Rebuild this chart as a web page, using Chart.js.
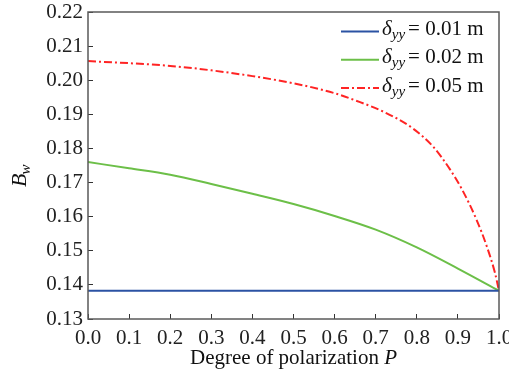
<!DOCTYPE html>
<html>
<head>
<meta charset="utf-8">
<script src="https://cdn.jsdelivr.net/npm/chart.js@4/dist/chart.umd.min.js"></script>
<style>
  body { margin: 0; background: #fff; }
  canvas { display: block; background: #fff; }
</style>
</head>
<body>
<canvas id="chart" width="509" height="374"></canvas>
<script>
// degree of polarization P
const pSteps = [0, 0.1, 0.2, 0.3, 0.4, 0.5, 0.6, 0.7, 0.8, 0.9, 1.0];
const pRed = [0, 0.1, 0.2, 0.3, 0.4, 0.5, 0.6, 0.65, 0.72, 0.79, 0.84, 0.88, 0.91, 0.945, 0.97, 0.99, 1.0];

// B_w for each delta_yy
const bw001 = [0.1383, 0.1383, 0.1383, 0.1383, 0.1383, 0.1383, 0.1383, 0.1383, 0.1383, 0.1383, 0.1383];
const bw002 = [0.1760, 0.1742, 0.1723, 0.1696, 0.1667, 0.1637, 0.1602, 0.1562, 0.1510, 0.1448, 0.1383];
const bw005 = [0.2056, 0.2050, 0.2042, 0.2029, 0.2012, 0.1991, 0.1962, 0.1941, 0.1907, 0.1859,
  0.1805, 0.1740, 0.1680, 0.1592, 0.1514, 0.1436, 0.1383];

const deltaValues = ['0.01 m', '0.02 m', '0.05 m'];
const lineColors = ['#2b52a3', '#6cbf48', '#ff2424'];

const FONT = '"Liberation Serif", "Times New Roman", serif';

function toPoints(xs, ys) {
  return xs.map((x, i) => ({ x: x, y: ys[i] }));
}

// frame, legend and axis titles (subscripts need manual drawing)
const decorations = {
  id: 'decorations',
  afterDraw(chart) {
    const ctx = chart.ctx;
    const a = chart.chartArea;
    ctx.save();

    ctx.strokeStyle = '#5a5a5a';
    ctx.lineWidth = 1.5;
    ctx.strokeRect(a.left, a.top, a.right - a.left, a.bottom - a.top);

    // legend
    ctx.fillStyle = '#111';
    ctx.textBaseline = 'alphabetic';
    chart.data.datasets.forEach((ds, i) => {
      const y = a.top + 19.5 + i * 28.3;
      ctx.beginPath();
      ctx.strokeStyle = ds.borderColor;
      ctx.lineWidth = 2;
      ctx.setLineDash(ds.borderDash || []);
      ctx.moveTo(a.right - 158, y);
      ctx.lineTo(a.right - 120, y);
      ctx.stroke();
      ctx.setLineDash([]);

      let x = a.right - 117;
      const base = y + 3.5;
      ctx.font = 'italic 21px ' + FONT;
      ctx.fillText('δ', x, base);
      x += ctx.measureText('δ').width;
      ctx.font = 'italic 15px ' + FONT;
      ctx.fillText('yy', x, base + 4);
      x += ctx.measureText('yy').width + 3;
      ctx.font = '21px ' + FONT;
      ctx.fillText('= ' + deltaValues[i], x, base);
    });

    // x title
    ctx.font = '21px ' + FONT;
    const main = 'Degree of polarization ';
    const w1 = ctx.measureText(main).width;
    ctx.font = 'italic 21px ' + FONT;
    const w2 = ctx.measureText('P').width;
    let tx = (a.left + a.right) / 2 - (w1 + w2) / 2;
    ctx.font = '21px ' + FONT;
    ctx.fillText(main, tx, 364);
    ctx.font = 'italic 21px ' + FONT;
    ctx.fillText('P', tx + w1, 364);

    // y title
    ctx.translate(26, 187);
    ctx.rotate(-Math.PI / 2);
    ctx.font = 'italic 22px ' + FONT;
    ctx.fillText('B', 0, 0);
    const bw = ctx.measureText('B').width;
    ctx.font = 'italic 15px ' + FONT;
    ctx.fillText('w', bw - 1, 4);

    ctx.restore();
  }
};

new Chart(document.getElementById('chart'), {
  type: 'scatter',
  data: {
    datasets: [
      {
        label: 'δyy = ' + deltaValues[0],
        data: toPoints(pSteps, bw001),
        borderColor: lineColors[0],
        borderWidth: 2,
      },
      {
        label: 'δyy = ' + deltaValues[1],
        data: toPoints(pSteps, bw002),
        borderColor: lineColors[1],
        borderWidth: 2,
        cubicInterpolationMode: 'monotone',
      },
      {
        label: 'δyy = ' + deltaValues[2],
        data: toPoints(pRed, bw005),
        borderColor: lineColors[2],
        borderWidth: 2,
        borderDash: [8, 3, 2, 3],
        cubicInterpolationMode: 'monotone',
      },
    ],
  },
  options: {
    responsive: false,
    animation: false,
    showLine: true,
    elements: { point: { radius: 0 } },
    layout: { padding: { top: 12, right: 10, bottom: 0, left: 0 } },
    plugins: {
      legend: { display: false },
      tooltip: { enabled: false },
    },
    scales: {
      x: {
        type: 'linear',
        min: 0,
        max: 1,
        border: { display: false },
        grid: { drawOnChartArea: false, tickLength: -5, color: '#333' },
        ticks: {
          stepSize: 0.1,
          padding: 12,
          color: '#222',
          font: { family: FONT, size: 21 },
          maxRotation: 0,
          callback: v => v.toFixed(1),
        },
        afterFit(scale) {
          scale.height = 55;
          scale.paddingLeft = 0;
          scale.paddingRight = 0;
        },
      },
      y: {
        min: 0.13,
        max: 0.22,
        border: { display: false },
        grid: { drawOnChartArea: false, tickLength: -5, color: '#333' },
        ticks: {
          stepSize: 0.01,
          padding: 10,
          color: '#222',
          font: { family: FONT, size: 21 },
          callback: v => v.toFixed(2),
        },
        afterFit(scale) {
          scale.width = 88;
          scale.paddingTop = 0;
          scale.paddingBottom = 0;
        },
      },
    },
  },
  plugins: [decorations],
});
</script>
</body>
</html>
